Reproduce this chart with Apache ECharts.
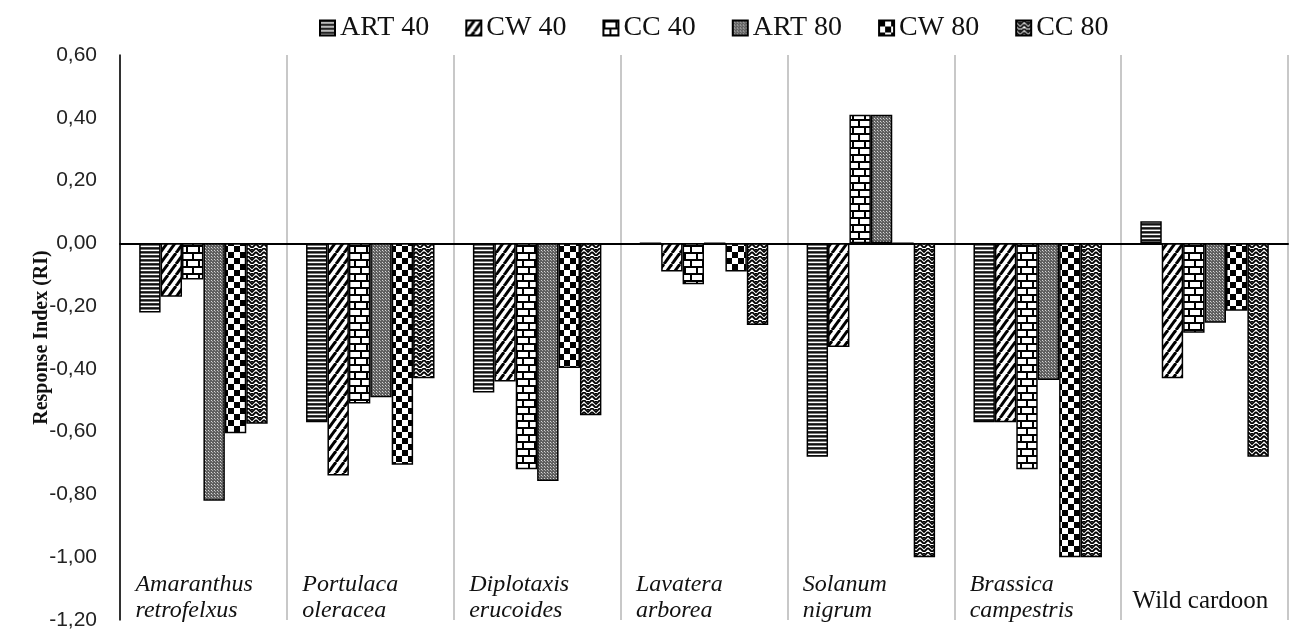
<!DOCTYPE html>
<html>
<head>
<meta charset="utf-8">
<script src="https://cdn.jsdelivr.net/npm/echarts@6/dist/echarts.min.js"></script>
<style>
  html, body { margin: 0; padding: 0; background: #fff; }
  #main { width: 1292px; height: 634px; }
</style>
</head>
<body>
<div id="main"></div>
<script>
// species (two-line italic labels) + wild cardoon
const categories = ['Amaranthus retrofelxus', 'Portulaca oleracea', 'Diplotaxis erucoides',
  'Lavatera arborea', 'Solanum nigrum', 'Brassica campestris', 'Wild cardoon'];

// response index values
const art40 = [-0.22, -0.57, -0.475, 0, -0.68, -0.57, 0.07];
const cw40  = [-0.17, -0.74, -0.44, -0.09, -0.33, -0.57, -0.43];
const cc40  = [-0.115, -0.51, -0.72, -0.13, 0.41, -0.72, -0.285];
const art80 = [-0.82, -0.49, -0.757, 0, 0.41, -0.435, -0.253];
const cw80  = [-0.605, -0.705, -0.397, -0.09, 0, -1.00, -0.215];
const cc80  = [-0.575, -0.43, -0.548, -0.26, -1.00, -1.00, -0.68];

const seriesNames = ['ART 40', 'CW 40', 'CC 40', 'ART 80', 'CW 80', 'CC 80'];

// small canvas tiles for the black & white fill patterns
function tile(w, h, draw) {
  const c = document.createElement('canvas');
  c.width = w; c.height = h;
  const g = c.getContext('2d');
  g.fillStyle = '#fff';
  g.fillRect(0, 0, w, h);
  draw(g);
  return { image: c, repeat: 'repeat' };
}

const patHoriz = tile(4, 4, g => {
  g.fillStyle = '#111'; g.fillRect(0, 0, 4, 1);
  g.fillStyle = '#777'; g.fillRect(0, 1, 4, 1);
  g.fillStyle = '#333'; g.fillRect(0, 3, 4, 1);
});
const patDiag = tile(8, 11, g => {
  g.strokeStyle = '#000'; g.lineWidth = 3;
  [-8, 0, 8].forEach(o => {
    g.beginPath(); g.moveTo(o, 11); g.lineTo(o + 8, 0); g.stroke();
  });
});
const patBrick = tile(12, 14, g => {
  g.fillStyle = '#000';
  g.fillRect(0, 0, 12, 2);
  g.fillRect(0, 7, 12, 2);
  g.fillRect(0, 0, 2, 7);
  g.fillRect(6, 7, 2, 7);
});
const patDots = tile(3, 3, g => {
  g.fillStyle = '#606060'; g.fillRect(0, 0, 3, 3);
  g.fillStyle = '#d8d8d8'; g.fillRect(1, 1, 1, 1);
  g.fillStyle = '#a8a8a8'; g.fillRect(2, 2, 1, 1);
});
const patCheck = tile(12, 12, g => {
  g.fillStyle = '#000';
  g.fillRect(0, 0, 6, 6);
  g.fillRect(6, 6, 6, 6);
});
const patWeave = tile(8, 8, g => {
  g.strokeStyle = '#000'; g.lineWidth = 1.8;
  g.beginPath(); g.moveTo(0, 0); g.lineTo(4, 4); g.lineTo(8, 0); g.stroke();
  g.beginPath(); g.moveTo(0, 4); g.lineTo(4, 8); g.lineTo(8, 4); g.stroke();
  g.fillStyle = '#000'; g.fillRect(3, 1, 2, 1);
});

const patterns = [patHoriz, patDiag, patBrick, patDots, patCheck, patWeave];
const values = [art40, cw40, cc40, art80, cw80, cc80];

const chart = echarts.init(document.getElementById('main'));

const series = seriesNames.map((name, i) => ({
  name: name,
  type: 'bar',
  data: values[i],
  barGap: '0%',
  barCategoryGap: '23%',
  itemStyle: { color: patterns[i], borderColor: '#000', borderWidth: 1.5 }
}));

chart.setOption({
  animation: false,
  backgroundColor: '#fff',
  legend: {
    data: seriesNames,
    left: 314,
    top: 9,
    icon: 'rect',
    itemWidth: 15,
    itemHeight: 15,
    itemGap: 36,
    textStyle: { fontFamily: 'Liberation Serif', fontSize: 28, color: '#111' }
  },
  grid: { left: 120, right: 4, top: 55, bottom: 14, outerBoundsMode: 'none' },
  xAxis: [
    {
      type: 'category',
      data: categories,
      position: 'bottom',
      axisLine: { show: false, onZero: false },
      axisTick: { show: false },
      splitLine: { show: true, lineStyle: { color: '#c8c8c8', width: 2 } },
      axisLabel: {
        inside: true,
        interval: 0,
        margin: -4,
        formatter: function (v) {
          if (v === 'Wild cardoon') return '{w|' + v + '}';
          const p = v.split(' ');
          return '{a|' + p[0] + '}\n{a|' + p[1] + '}';
        },
        rich: {
          a: { fontFamily: 'Liberation Serif', fontStyle: 'italic', fontSize: 24,
               lineHeight: 26, width: 136, align: 'left', color: '#111' },
          w: { fontFamily: 'Liberation Serif', fontSize: 25, lineHeight: 46,
               width: 144, align: 'left', color: '#111' }
        }
      }
    },
    {
      type: 'category',
      data: categories,
      position: 'bottom',
      axisLine: { show: true, onZero: true, lineStyle: { color: '#000', width: 2 } },
      axisTick: { show: false },
      axisLabel: { show: false },
      splitLine: { show: false }
    }
  ],
  yAxis: {
    type: 'value',
    min: -1.2,
    max: 0.6,
    interval: 0.2,
    name: 'Response Index (RI)',
    nameLocation: 'middle',
    nameGap: 68,
    nameMoveOverlap: false,
    nameTextStyle: { fontFamily: 'Liberation Serif', fontWeight: 'bold', fontSize: 20, color: '#111' },
    axisLine: { show: true, lineStyle: { color: '#000', width: 1.5 } },
    axisTick: { show: false },
    splitLine: { show: false },
    axisLabel: {
      margin: 23,
      fontFamily: 'Liberation Sans',
      fontSize: 21,
      color: '#222',
      formatter: function (v) {
        if (Math.abs(v) < 1e-9) v = 0;
        return v.toFixed(2).replace('.', ',');
      }
    }
  },
  series: series
});
</script>
</body>
</html>
